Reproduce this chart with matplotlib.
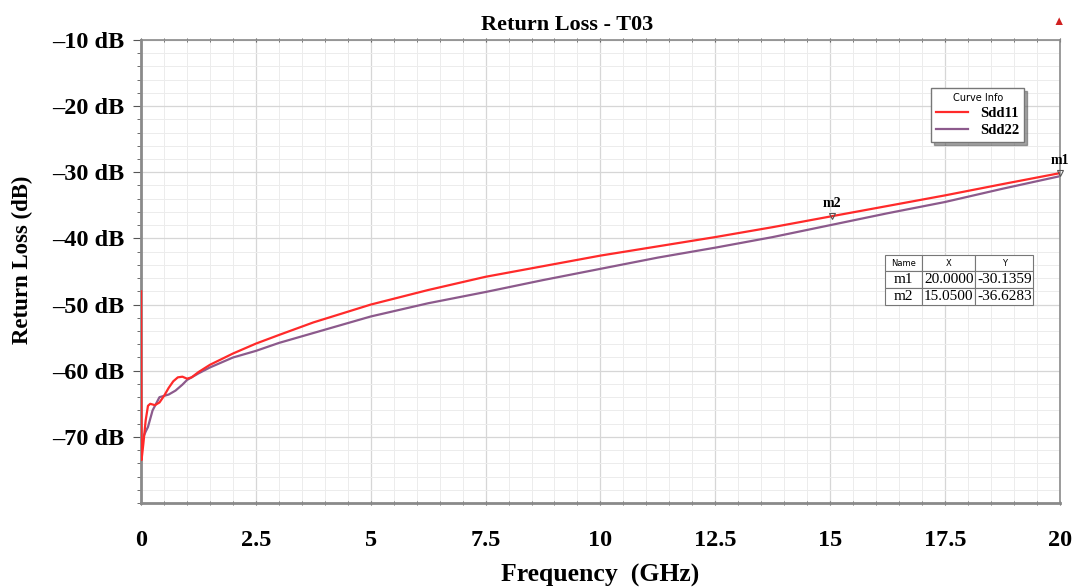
import matplotlib
matplotlib.use("Agg")
import matplotlib.pyplot as plt
from matplotlib.ticker import MultipleLocator, FuncFormatter

# values
freq_11 = [0, 0.01, 0.05, 0.1, 0.15, 0.2, 0.3, 0.4, 0.5, 0.6, 0.7, 0.8, 0.9, 1.0, 1.1,
           1.25, 1.5, 2.0, 2.5, 3.0, 3.75, 5.0, 6.25, 7.5, 8.75, 10.0, 11.25, 12.5, 13.75,
           15.05, 16.25, 17.5, 18.75, 20.0]
sdd11 = [-48, -73.5, -71.0, -67.5, -65.3, -65.0, -65.2, -64.8, -63.8, -62.6, -61.6, -61.0,
         -60.9, -61.2, -61.0, -60.2, -59.1, -57.4, -55.9, -54.6, -52.7, -50.0, -47.8, -45.8,
         -44.2, -42.6, -41.2, -39.8, -38.3, -36.63, -35.1, -33.5, -31.8, -30.14]
freq_22 = [0, 0.05, 0.1, 0.15, 0.25, 0.4, 0.6, 0.75, 0.9, 1.0, 1.25, 1.5, 2.0, 2.5, 3.0,
           3.75, 5.0, 6.25, 7.5, 8.75, 10.0, 11.25, 12.5, 13.75, 15.0, 16.25, 17.5, 18.75,
           20.0]
sdd22 = [-72.0, -70.0, -69.2, -68.5, -66.0, -64.0, -63.6, -63.0, -62.1, -61.4, -60.4, -59.5,
         -58.0, -57.0, -55.8, -54.3, -51.8, -49.8, -48.1, -46.3, -44.6, -42.9, -41.4, -39.8,
         -38.0, -36.2, -34.5, -32.5, -30.6]
marker_names = ["m1", "m2"]
marker_x = [20.0, 15.05]
marker_y = [-30.1359, -36.6283]

plt.rcParams['font.family'] = ['Liberation Serif', 'DejaVu Serif']

fig = plt.figure(figsize=(10.77, 5.87), dpi=100)
ax = fig.add_axes([0.131, 0.143, 0.853, 0.789])

ax.plot(freq_11, sdd11, color='#ff2a2a', lw=1.6, label='Sdd11', zorder=3)
ax.plot(freq_22, sdd22, color='#8c5a8c', lw=1.6, label='Sdd22', zorder=2)

for name, mx, my in zip(marker_names, marker_x, marker_y):
    ax.plot(mx, my, marker='v', ms=5, mfc='none', mec='#555555', mew=0.8, zorder=4,
            clip_on=False)
    ax.text(mx, my + 0.9, name, ha='center', va='bottom', fontsize=10,
            fontweight='bold', zorder=5)

ax.set_xlim(0, 20)
ax.set_ylim(-80, -10)
ax.xaxis.set_major_locator(MultipleLocator(2.5))
ax.xaxis.set_minor_locator(MultipleLocator(0.5))
ax.yaxis.set_minor_locator(MultipleLocator(2))
ax.set_yticks([-70, -60, -50, -40, -30, -20, -10])
ax.xaxis.set_major_formatter(FuncFormatter(lambda v, p: f"{v:g}"))
ax.yaxis.set_major_formatter(FuncFormatter(lambda v, p: f"\u2013{abs(v):g} dB"))

ax.grid(which='major', color='#d6d6d6', lw=0.9)
ax.grid(which='minor', color='#ececec', lw=0.7)
ax.set_axisbelow(True)

for s in ax.spines.values():
    s.set_color('#8a8a8a')
    s.set_linewidth(1.2)
ax.spines['left'].set_linewidth(2)
ax.spines['bottom'].set_linewidth(2)

ax.tick_params(axis='y', which='major', length=6, color='#555555', labelsize=17.5, pad=6)
ax.tick_params(axis='y', which='minor', length=3, color='#555555')
ax.tick_params(axis='x', which='major', length=3, color='#555555', labelsize=17.5, pad=18,
               top=True, direction='inout')
ax.tick_params(axis='x', which='minor', length=3, color='#555555', top=True,
               direction='inout')
for lab in ax.get_xticklabels() + ax.get_yticklabels():
    lab.set_fontweight('bold')

ax.set_xlabel('Frequency  (GHz)', fontsize=18.5, fontweight='bold', labelpad=9)
ax.set_ylabel('Return Loss (dB)', fontsize=16.5, fontweight='bold')
ax.yaxis.set_label_coords(-0.118, 0.525)
ax.set_title('Return Loss - T03', fontsize=16, fontweight='bold', pad=7, x=0.4636)

leg = ax.legend(title='Curve Info', loc='upper left', bbox_to_anchor=(0.86, 0.896),
                fontsize=10.5, title_fontsize=7, frameon=True, fancybox=False,
                shadow=True, edgecolor='#777777', handlelength=2.2, borderpad=0.35,
                labelspacing=0.25, borderaxespad=0)
leg.get_frame().set_linewidth(1.0)
for t in leg.get_texts():
    t.set_fontweight('bold')
leg.get_title().set_family(['DejaVu Sans'])

# marker table
cells = [[n, f"{x:.4f}", f"{y:.4f}"] for n, x, y in zip(marker_names, marker_x, marker_y)]
tab = ax.table(cellText=[["Name", "X", "Y"]] + cells, cellLoc='center',
               colWidths=[0.25, 0.36, 0.39], bbox=[0.81, 0.428, 0.161, 0.108])
tab.auto_set_font_size(False)
for (r, c), cell in tab.get_celld().items():
    cell.set_edgecolor('#777777')
    cell.set_linewidth(0.8)
    cell.set_facecolor('white')
    if r == 0:
        cell.get_text().set_fontsize(6)
        cell.get_text().set_family(['DejaVu Sans'])
    else:
        cell.get_text().set_fontsize(11)
tab.set_zorder(6)

fig.text(0.983, 0.963, '\u25b2', color='#d02020', fontsize=9, ha='center', va='center')

fig.savefig('out.png', dpi=100)
